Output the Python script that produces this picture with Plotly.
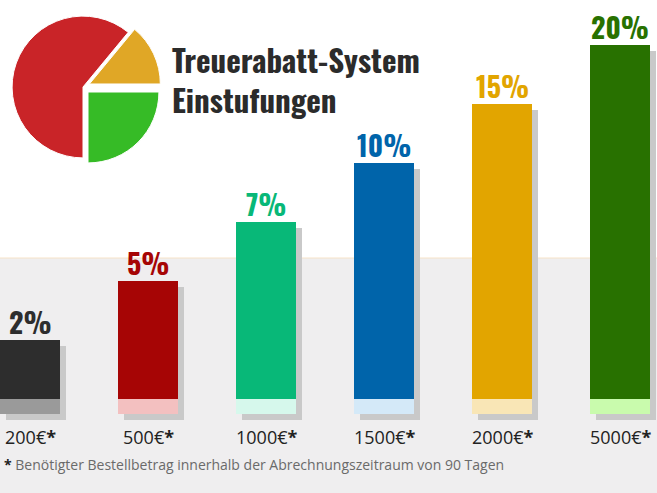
import plotly.graph_objects as go

# Data
stufen = [1, 2, 3, 4, 5, 6]  # Stufe = Balkenhöhe
rabatt = ['2%', '5%', '7%', '10%', '15%', '20%']
betrag = ['200€', '500€', '1000€', '1500€', '2000€', '5000€']
bar_colors = ['#2d2d2d', '#a60505', '#08b878', '#0064aa', '#e2a500', '#287100']
band_colors = ['#9a9a9a', '#f3c0c0', '#d6f8ec', '#d4e9f8', '#f9e6b6', '#c9fbad']
pie_labels = ['grün', 'rot', 'orange']
pie_values = [25, 61, 14]

W, H = 657, 493
x_idx = list(range(len(stufen)))
title_font = 'Oswald, DejaVu Sans Condensed, sans-serif'

fig = go.Figure()

# Schatten
fig.add_trace(go.Bar(
    x=[i + 0.05 for i in x_idx],
    y=[s - 0.1 + 0.36 for s in stufen],
    base=-0.36,
    width=0.508,
    marker_color='#c9c9c9',
    marker_line_width=0,
    hoverinfo='skip'
))
# Heller Streifen unten
fig.add_trace(go.Bar(
    x=x_idx,
    y=[0.254] * len(stufen),
    base=-0.254,
    width=0.508,
    marker_color=band_colors,
    marker_line_width=0,
    hoverinfo='skip'
))
# Balken
fig.add_trace(go.Bar(
    x=x_idx,
    y=stufen,
    width=0.508,
    marker_color=bar_colors,
    marker_line_width=0
))

# Prozent-Labels und Beträge
for i, s in enumerate(stufen):
    fig.add_annotation(
        x=i, y=s, yanchor='bottom', showarrow=False, yshift=-4,
        text=rabatt[i],
        font=dict(family=title_font, size=28, color=bar_colors[i], weight='bold')
    )
    fig.add_annotation(
        x=i, y=-0.644, showarrow=False,
        text=betrag[i] + '<b>*</b>',
        font=dict(family='Open Sans, sans-serif', size=18, color='#222222')
    )

# Fußnote
fig.add_annotation(
    x=0.003, y=1 - 464 / H, xref='paper', yref='paper', xanchor='left', yanchor='middle',
    showarrow=False,
    text='<b><span style="color:#222">*</span></b> Benötigter Bestellbetrag innerhalb der Abrechnungszeitraum von 90 Tagen',
    font=dict(family='Open Sans, sans-serif', size=14, color='#6a6a6a')
)

# Titel
fig.add_annotation(
    x=170 / W, y=1 - 34 / H, xref='paper', yref='paper', xanchor='left', yanchor='top',
    showarrow=False, align='left',
    text='Treuerabatt-System<br>Einstufungen',
    font=dict(family=title_font, size=31, color='#2b2b2b', weight='bold')
)

# Kreisdiagramm-Logo
fig.add_trace(go.Pie(
    labels=pie_labels, values=pie_values,
    marker=dict(colors=['#36bb26', '#c92428', '#e0a726'], line=dict(color='#ffffff', width=1)),
    pull=[0.1, 0, 0.1], sort=False, direction='clockwise', rotation=90,
    textinfo='none', hoverinfo='skip', showlegend=False,
    domain=dict(x=[5 / W, 161 / W], y=[1 - 165 / H, 1 - 9 / H])
))

# Hintergrund
fig.add_shape(type='rect', xref='paper', yref='paper', x0=0, x1=1, y0=0, y1=1 - 258 / H,
              fillcolor='#efeeef', line_width=0, layer='below')
fig.add_shape(type='line', xref='paper', yref='paper', x0=0, x1=1,
              y0=1 - 258 / H, y1=1 - 258 / H, line=dict(color='#f6e2c8', width=1), layer='below')

fig.update_layout(
    width=W, height=H,
    margin=dict(l=0, r=0, t=0, b=0),
    paper_bgcolor='white', plot_bgcolor='rgba(0,0,0,0)',
    barmode='overlay', bargap=0, showlegend=False,
    xaxis=dict(range=[-30 / 118, (W - 30) / 118], visible=False, fixedrange=True),
    yaxis=dict(range=[-94 / 59, 399 / 59], visible=False, fixedrange=True)
)

fig.write_html('out.html', config={'displayModeBar': False},
               post_script="document.body.style.margin='0';")
